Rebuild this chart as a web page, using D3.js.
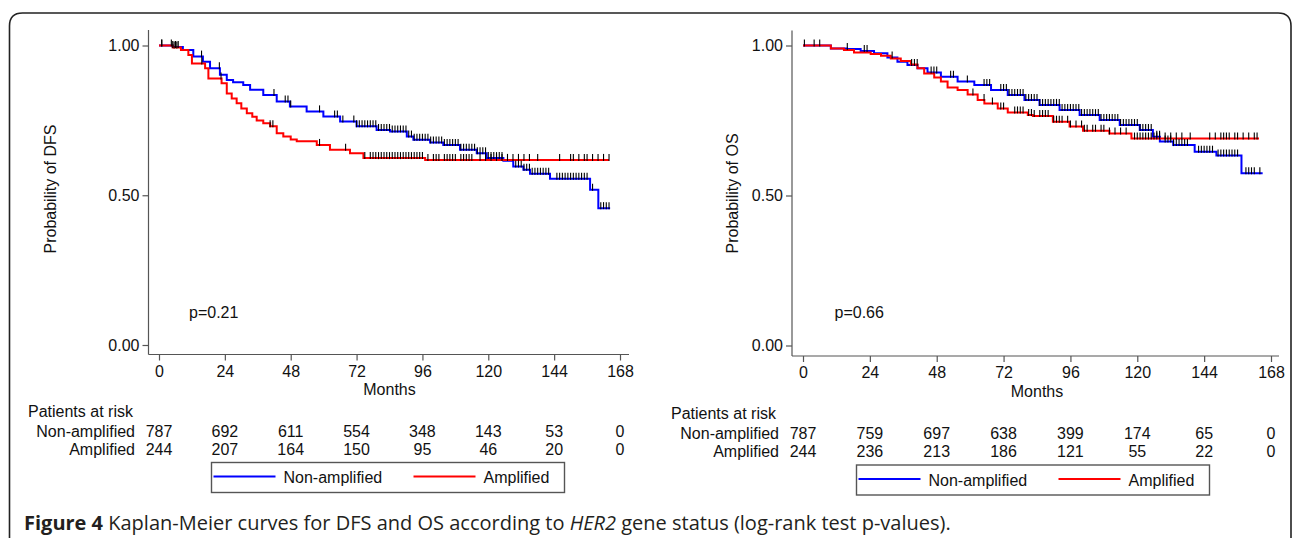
<!DOCTYPE html>
<html>
<head>
<meta charset="utf-8">
<script src="https://cdn.jsdelivr.net/npm/d3@7"></script>
<style>
  body { margin: 0; background: #fff; }
  svg { display: block; }
  .lbl { font-family: "Liberation Sans", Arial, sans-serif; font-size: 16px; fill: #111; }
  .cap { font-family: "Open Sans", sans-serif; font-size: 20px; fill: #231f20; }
</style>
</head>
<body>
<script>
// values
var monthTicks = [0, 24, 48, 72, 96, 120, 144, 168];
var probTicks = [0, 0.5, 1];
var groups = ["Non-amplified", "Amplified"];
var groupColors = ["#0000ff", "#ff0000"];

// DFS curves, [month, survival] (step after)
var dfsNonAmp = [[0,1],[5,0.995],[8.7,0.985],[12.5,0.963],[16,0.946],[18.6,0.924],[22.2,0.902],[24.7,0.885],[27,0.877],
  [30.7,0.868],[33.2,0.852],[38,0.835],[42.9,0.813],[47.7,0.796],[53.8,0.78],[59.9,0.763],[66,0.746],[72,0.73],
  [79.3,0.718],[84.2,0.713],[90.3,0.696],[92.7,0.685],[98.8,0.676],[103.6,0.668],[109.7,0.652],[115.8,0.64],
  [119.4,0.624],[125.5,0.615],[129.1,0.596],[132.8,0.585],[135.2,0.572],[142.5,0.555],[157.1,0.518],[160.1,0.457],[164.4,0.457]];
var dfsAmp = [[0,1],[5,0.993],[8,0.985],[10.7,0.968],[12,0.94],[16.8,0.924],[18,0.89],[22.8,0.874],[24.7,0.84],
  [26.5,0.823],[28.3,0.807],[30,0.79],[32,0.774],[34,0.762],[35.6,0.75],[38,0.74],[40.5,0.73],[42.9,0.707],
  [45.3,0.696],[48,0.686],[50.2,0.68],[57.5,0.668],[62.3,0.652],[69.6,0.64],[74.5,0.624],[97,0.618],[164,0.618]];
var dfsNonAmpCensor = [1,5,6,7,15.5,22,41.9,46,47,48,58.5,64,65,67,71,72,73,74,75,76,77,78,79,80,81,82,83,84,85,86,87,88,
  89,90,91,92,93,94,95,96,97,98,99,100,101,102,103,104,105,106,107,108,109,110,111,112,113,114,115,116,117,118,119,120,
  121,122,123,124,125,130,131,132,133,134,135,136,137,138,139,140,141,142,145,146,147,148,149,150,151,152,153,154,155,156,
  158,161,162,163,164];
var dfsAmpCensor = [1,4.5,5.5,6.5,15.6,22.6,40.5,41.5,58.5,68,75,77,78,79,80,81,82,83,84,85,86,87,88,89,90,91,92,93,94,
  95,96,98,100,101,102,104,105,106,107,108,110,111,112,113,114,117,119,121,123,125,127,129,131,133,135,138,146,150,151,
  153,155,156,158,160,162,164];

// OS curves
var osNonAmp = [[0,1],[8.7,1],[10,0.99],[15.8,0.988],[20.7,0.982],[25.5,0.974],[30.3,0.96],[33.9,0.946],[37.5,0.935],
  [41.1,0.924],[44.7,0.91],[49.5,0.896],[55.5,0.88],[61.5,0.868],[67.5,0.852],[73.5,0.835],[79.5,0.818],[84.9,0.802],
  [92.1,0.785],[99.3,0.768],[106.5,0.752],[113.7,0.735],[120.9,0.718],[125.6,0.696],[128.1,0.68],[132.9,0.668],
  [140.6,0.646],[148.4,0.633],[157.4,0.574],[165,0.574]];
var osAmp = [[0,1],[8.7,1],[10,0.99],[14.7,0.985],[18.3,0.977],[24.3,0.972],[28,0.966],[31.5,0.957],[35.1,0.948],
  [38.7,0.937],[41.1,0.924],[43.5,0.907],[47.1,0.893],[49.5,0.88],[51.9,0.86],[55.5,0.852],[59.1,0.837],[62.7,0.818],
  [65.1,0.807],[69.9,0.79],[73.5,0.777],[80.7,0.768],[82.5,0.765],[89.7,0.746],[95.7,0.73],[100.5,0.716],[110,0.707],
  [117.9,0.69],[163.7,0.69]];
var osNonAmpCensor = [0.5,4,6,15.9,22,23,32,39,40,41,46,47,48,53,54,59,65,66,67,71,72,73,74,75,76,77,78,79,80,81,82,83,84,
  85,86,87,88,89,90,91,92,93,94,95,96,97,98,99,100,101,102,103,104,105,106,107,108,109,110,111,112,113,114,115,116,117,
  118,119,120,121,122,123,124,125,127,128,130,131,132,133,134,135,136,137,138,142,143,144,145,146,147,149,150,151,152,
  153,154,155,156,159,160,161,162,164];
var osAmpCensor = [61,65,68,71,72,76,77,78,79,81,82,83,85,86,87,88,90,91,92,93,95,96,98,100,101,102,104,105,107,108,110,
  112,114,116,119,120,121,122,123,124,125,126,127,128,130,132,134,136,139,146,148,150,151,152,153,155,156,158,160,162,163];

// numbers at risk
var dfsRiskNonAmp = [787, 692, 611, 554, 348, 143, 53, 0];
var dfsRiskAmp = [244, 207, 164, 150, 95, 46, 20, 0];
var osRiskNonAmp = [787, 759, 697, 638, 399, 174, 65, 0];
var osRiskAmp = [244, 236, 213, 186, 121, 55, 22, 0];

var W = 1293, H = 538;
var svg = d3.select("body").append("svg").attr("width", W).attr("height", H);

// outer frame with rounded top corners, open at the bottom
svg.append("path")
  .attr("d", "M9.5,545 L9.5,26 Q9.5,13 22.5,13 L1278,13 Q1291,13 1291,26 L1291,545")
  .attr("fill", "none").attr("stroke", "#222").attr("stroke-width", 1.6);

function survAt(curve, t) {
  var v = curve[0][1];
  for (var i = 0; i < curve.length; i++) { if (curve[i][0] <= t) v = curve[i][1]; }
  return v;
}

function panel(cfg) {
  var g = svg.append("g");
  var x = d3.scaleLinear().domain([0, 168]).range(cfg.xr);
  var y = d3.scaleLinear().domain([0, 1]).range(cfg.yr);

  // axis lines (offset like the SAS output)
  g.append("line").attr("x1", cfg.ax).attr("x2", cfg.ax).attr("y1", cfg.axTop).attr("y2", cfg.ay)
    .attr("stroke", "#555").attr("stroke-width", 1.2);
  g.append("line").attr("x1", cfg.ax).attr("x2", cfg.axRight).attr("y1", cfg.ay).attr("y2", cfg.ay)
    .attr("stroke", "#555").attr("stroke-width", 1.2);

  var yAx = g.append("g").attr("transform", "translate(" + cfg.ax + ",0)")
    .call(d3.axisLeft(y).tickValues(probTicks).tickFormat(d3.format(".2f")).tickSize(6).tickPadding(3));
  var xAx = g.append("g").attr("transform", "translate(0," + cfg.ay + ")")
    .call(d3.axisBottom(x).tickValues(monthTicks).tickSize(6).tickPadding(5));
  [yAx, xAx].forEach(function(a) {
    a.select(".domain").remove();
    a.attr("font-size", null).attr("font-family", null);
    a.selectAll("line").attr("stroke", "#555").attr("stroke-width", 1.2);
    a.selectAll("text").attr("class", "lbl").attr("fill", "#111");
  });

  // y title: its end sits at the same height in both panels
  g.append("text").attr("class", "lbl")
    .attr("transform", "translate(" + cfg.ylabX + "," + cfg.ylabY + ") rotate(-90)")
    .attr("text-anchor", "start").attr("dy", "0.35em").text(cfg.ylab);
  g.append("text").attr("class", "lbl").attr("x", x(84)).attr("y", cfg.monthsY)
    .attr("text-anchor", "middle").attr("dy", "0.35em").text("Months");
  g.append("text").attr("class", "lbl").attr("x", cfg.pX).attr("y", cfg.pY)
    .attr("dy", "0.35em").text(cfg.p);

  var line = d3.line().curve(d3.curveStepAfter)
    .x(function(d) { return x(d[0]); }).y(function(d) { return y(d[1]); });

  cfg.curves.forEach(function(c, i) {
    g.append("path").datum(c).attr("fill", "none").attr("stroke", groupColors[i])
      .attr("stroke-width", 2).attr("d", line);
  });
  cfg.censors.forEach(function(cs, i) {
    var curve = cfg.curves[i];
    g.selectAll(null).data(cs).enter().append("line")
      .attr("x1", function(d) { return x(d); }).attr("x2", function(d) { return x(d); })
      .attr("y1", function(d) { return y(survAt(curve, d)) - 6; })
      .attr("y2", function(d) { return y(survAt(curve, d)) + 1; })
      .attr("stroke", "#000").attr("stroke-width", 1.1);
  });

  // risk table
  g.append("text").attr("class", "lbl").attr("x", cfg.riskX).attr("y", cfg.riskY)
    .attr("dy", "0.35em").text("Patients at risk");
  cfg.risk.forEach(function(row, i) {
    var ry = cfg.riskY + 20 + i * 18;
    g.append("text").attr("class", "lbl").attr("x", cfg.riskLabR).attr("y", ry)
      .attr("text-anchor", "end").attr("dy", "0.35em").text(groups[i]);
    g.selectAll(null).data(row).enter().append("text").attr("class", "lbl")
      .attr("x", function(d, j) { return x(monthTicks[j]); }).attr("y", ry)
      .attr("text-anchor", "middle").attr("dy", "0.35em").text(function(d) { return d; });
  });

  // legend
  var lg = g.append("g").attr("transform", "translate(" + cfg.legX + "," + cfg.legY + ")");
  lg.append("rect").attr("width", 353).attr("height", 30).attr("fill", "none")
    .attr("stroke", "#555").attr("stroke-width", 1.4);
  groups.forEach(function(name, i) {
    var ox = i === 0 ? 2 : 202;
    lg.append("line").attr("x1", ox).attr("x2", ox + 62).attr("y1", 14).attr("y2", 14)
      .attr("stroke", groupColors[i]).attr("stroke-width", 2);
    lg.append("text").attr("class", "lbl").attr("x", ox + 70).attr("y", 15).attr("dy", "0.35em").text(name);
  });
}

panel({
  xr: [159, 620], yr: [345, 45.5], ax: 148.5, ay: 354.5, axTop: 30, axRight: 629,
  ylab: "Probability of DFS", ylabX: 50, ylabY: 253.5, monthsY: 389, p: "p=0.21", pX: 189, pY: 312,
  curves: [dfsNonAmp, dfsAmp], censors: [dfsNonAmpCensor, dfsAmpCensor],
  risk: [dfsRiskNonAmp, dfsRiskAmp], riskX: 28, riskY: 411, riskLabR: 135,
  legX: 211.5, legY: 462.5
});
panel({
  xr: [803, 1271], yr: [345.5, 45.5], ax: 792, ay: 356, axTop: 30.5, axRight: 1279,
  ylab: "Probability of OS", ylabX: 732, ylabY: 253.5, monthsY: 391.5, p: "p=0.66", pX: 834.5, pY: 312,
  curves: [osNonAmp, osAmp], censors: [osNonAmpCensor, osAmpCensor],
  risk: [osRiskNonAmp, osRiskAmp], riskX: 671, riskY: 413.5, riskLabR: 779,
  legX: 856.5, legY: 465
});

// caption
var cap = svg.append("text").attr("class", "cap").attr("x", 24).attr("y", 530);
cap.append("tspan").attr("font-weight", "bold").text("Figure 4");
cap.append("tspan").text(" Kaplan-Meier curves for DFS and OS according to ");
cap.append("tspan").attr("font-style", "italic").text("HER2");
cap.append("tspan").text(" gene status (log-rank test p-values).");
</script>
</body>
</html>
